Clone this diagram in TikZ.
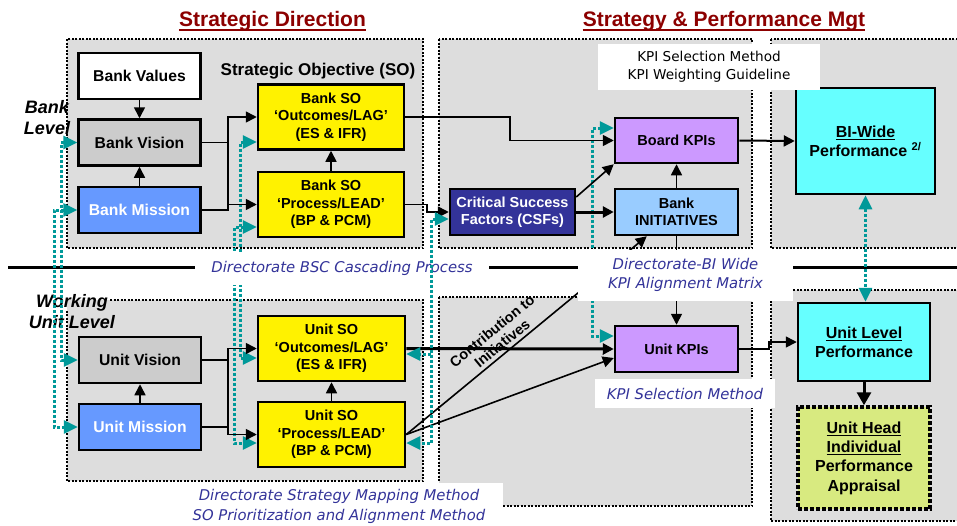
\documentclass[tikz,border=0pt]{standalone}
\usepackage{fontspec}
\setmainfont{Liberation Sans}
\newfontfamily\lblfont{DejaVu Sans}
\usetikzlibrary{arrows.meta}
\newcommand{\ulbox}[1]{\setbox0\hbox{#1}\rlap{\rule[-2.8pt]{\wd0}{1.3pt}}\box0}
\definecolor{panelgray}{RGB}{221,221,221}
\definecolor{visiongray}{RGB}{204,204,204}
\definecolor{missionblue}{RGB}{102,153,255}
\definecolor{csfblue}{RGB}{51,51,153}
\definecolor{initblue}{RGB}{153,204,255}
\definecolor{kpililac}{RGB}{204,153,255}
\definecolor{perfcyan}{RGB}{102,255,255}
\definecolor{apprgreen}{RGB}{216,234,128}
\definecolor{titlered}{RGB}{140,0,0}
\definecolor{methodblue}{RGB}{51,51,153}
\definecolor{cascadeteal}{RGB}{0,153,153}
\tikzset{
  blackhead/.tip={Triangle[length=11pt,width=11pt]},
  tealhead/.tip={Triangle[length=14pt,width=13pt]}
}
\begin{document}
\begin{tikzpicture}[x=1pt, y=-1pt,
    panel/.style={fill=panelgray, draw, line width=2pt, dash pattern=on 2pt off 1.5pt},
    box/.style={draw, line width=2.5pt, align=center, inner sep=0pt, minimum width=123pt,
      minimum height=46pt, font=\bfseries\fontsize{14.5}{17.4}\selectfont},
    vmbox/.style={box, minimum width=122pt, font=\bfseries\fontsize{15.7}{18}\selectfont},
    sobox/.style={box, fill=yellow, minimum width=146pt, minimum height=65pt},
    perfbox/.style={box, fill=perfcyan, font=\bfseries\fontsize{16}{19.4}\selectfont},
    conn/.style={line width=1.6pt, -blackhead},
    cascade/.style={draw=cascadeteal, line width=3pt, dash pattern=on 3pt off 2pt},
    methodlbl/.style={fill=white, text=methodblue, align=center, inner sep=0pt,
      font=\lblfont\itshape\fontsize{14.8}{19.5}\selectfont},
    level/.style={align=center, inner sep=0pt, font=\bfseries\itshape\fontsize{18}{21}\selectfont},
    heading/.style={text=titlered, inner sep=0pt, font=\bfseries\fontsize{21}{25}\selectfont}]
  \useasboundingbox (0,0) rectangle (957,525);
  \clip (0,0) rectangle (957,525);

  % panels
  \draw[panel] (67,39) rectangle (423,248);
  \draw[panel] (439,39) rectangle (752,248);
  \draw[panel] (771,39) rectangle (965,248);
  \fill[panelgray] (67,300) rectangle (423,481);
  \draw[line width=2pt, dash pattern=on 2pt off 1.5pt] (110,300) -| (423,481) -| (67,310);
  \draw[panel] (439,297) rectangle (752,506);
  \draw[panel] (771,290) rectangle (965,521);
  \draw[line width=3pt] (8,267) -- (965,267);

  % headings
  \node[heading, anchor=base] (sdhead) at (272.5,26) {Strategic Direction};
  \node[heading, anchor=base] (sphead) at (724,26) {Strategy \& Performance Mgt};
  \foreach \h in {sdhead,sphead}
    \draw[titlered, line width=2pt] ([yshift=-3.5pt]\h.base west) -- ([yshift=-3.5pt]\h.base east);

  \node[level] (banklvl) at (47,117.5) {Bank\\Level};
  \node[level] (unitlvl) at (72,312) {Working\\Unit Level};
  \node[inner sep=0pt, font=\bfseries\fontsize{17}{20}\selectfont] (solbl) at (318,71) {Strategic Objective (SO)};

  % bank level
  \node[vmbox, fill=white] (bvalues) at (139.5,76) {Bank Values};
  \node[vmbox, fill=visiongray] (bvision) at (139.5,142.5) {Bank Vision};
  \node[vmbox, fill=missionblue, text=white] (bmission) at (139.5,210) {Bank Mission};
  \node[sobox] (bsoout) at (331,117) {Bank SO\\‘Outcomes/LAG’\\(ES \& IFR)};
  \node[sobox] (bsoproc) at (331,204.5) {Bank SO\\‘Process/LEAD’\\(BP \& PCM)};
  \node[box, fill=csfblue, text=white, minimum width=125pt] (csf) at (512.5,212) {Critical Success\\Factors (CSFs)};
  \node[box, fill=kpililac, minimum height=45pt] (boardkpi) at (676.5,140.5) {Board KPIs};
  \node[box, fill=initblue] (binit) at (676.5,212) {Bank\\INITIATIVES};
  \node[perfbox, minimum width=139pt, minimum height=106pt] (biwide) at (865.5,141)
    {\ulbox{BI-Wide}\\Performance \textsuperscript{2/}};

  % unit level
  \node[vmbox, fill=visiongray] (uvision) at (140,360) {Unit Vision};
  \node[vmbox, fill=missionblue, text=white] (umission) at (140,427) {Unit Mission};
  \node[sobox, minimum width=147pt] (usoout) at (331.5,348.5) {Unit SO\\‘Outcomes/LAG’\\(ES \& IFR)};
  \node[sobox, minimum width=147pt] (usoproc) at (331.5,434.5) {Unit SO\\‘Process/LEAD’\\(BP \& PCM)};
  \node[box, fill=kpililac] (unitkpi) at (676.5,349) {Unit KPIs};
  \node[perfbox, minimum width=132pt, minimum height=78pt] (uperf) at (864,342)
    {\ulbox{Unit Level}\\Performance};
  \node[perfbox, fill=apprgreen, line width=3.5pt, dash pattern=on 4pt off 2pt,
    minimum width=132pt, minimum height=102pt] (uhead) at (864,458)
    {\ulbox{Unit Head}\\\ulbox{Individual}\\Performance\\Appraisal};

  \coordinate (ta) at (61,0);
  \coordinate (tb) at (54,0);
  \coordinate (tc) at (240,0);
  \coordinate (td) at (234,0);
  \coordinate (te) at (431,0);
  \coordinate (tf) at (592,0);
  \coordinate (c1a) at ([yshift=-25pt]bsoout.west);
  \coordinate (c1b) at ([yshift=-9.5pt]usoout.west);
  \coordinate (c2a) at ([yshift=-22.5pt]bsoproc.west);
  \coordinate (c2b) at ([yshift=-8.5pt]usoproc.west);
  \coordinate (e1) at ([yshift=12.5pt]boardkpi.west);
  \coordinate (e2) at ([yshift=13pt]unitkpi.west);

  % links running under the method labels
  \draw[cascade, tealhead-tealhead] (c1a) -- (tc |- c1a) -- (tc |- c1b) -- (c1b);
  \draw[cascade, tealhead-tealhead] (c2a) -- (td |- c2a) -- (td |- c2b) -- (c2b);
  \draw[cascade, tealhead-tealhead] (e1) -- (tf |- e1) -- (tf |- e2) -- (e2);
  \draw[conn] (binit.south) -- (unitkpi.north);
  \draw[conn] (usoproc.east) -- ([xshift=33pt]binit.south west);
  \node[rotate=39.5, align=center, inner sep=0pt, font=\bfseries\fontsize{14.5}{16}\selectfont]
    (contrib) at (497,337) {Contribution to\\Initiatives};

  % method labels
  \node[methodlbl, minimum width=294pt, minimum height=33pt] (cascadelbl) at (342,268.5)
    {Directorate BSC Cascading Process};
  \node[methodlbl, minimum width=215pt, minimum height=51pt] (matrixlbl) at (685.5,275)
    {Directorate-BI Wide\\KPI Alignment Matrix};
  \node[methodlbl, minimum width=180pt, minimum height=29pt] (kpisel) at (685,393.5)
    {KPI Selection Method};
  \node[methodlbl, minimum width=328pt, minimum height=47pt] (mappinglbl) at (339,506.5)
    {Directorate Strategy Mapping Method\\SO Prioritization and Alignment Method};
  \node[fill=white, inner sep=0pt, minimum width=222pt, minimum height=46pt, align=center,
    font=\lblfont\fontsize{13.6}{18}\selectfont] (kpiguide) at (709,67)
    {KPI Selection Method\\KPI Weighting Guideline};

  % bank level links
  \draw[conn] (bvalues.south) -- (bvision.north);
  \draw[conn] (bmission.north) -- (bvision.south);
  \coordinate (bj) at (228,0);
  \draw[line width=1.6pt] (bvision.east) -- (bj |- bvision.east);
  \draw[conn] (bmission.east) -| (bj |- bsoout.west) -- (bsoout.west);
  \draw[conn] (bj |- bsoproc.west) -- (bsoproc.west);
  \draw[conn] (bsoproc.north) -- (bsoout.south);
  \coordinate (bk) at (510,0);
  \coordinate (ck) at (427,0);
  \draw[conn] (bsoout.east) -| (bk |- boardkpi.west) -- (boardkpi.west);
  \draw[conn] (bsoproc.east) -| (ck |- csf.west) -- (csf.west);
  \draw[line width=3pt, -blackhead] (csf.east) -- (binit.west);
  \draw[conn] ([yshift=15pt]csf.east) -- (boardkpi.south west);
  \draw[conn] (binit.north) -- (boardkpi.south);
  \draw[line width=2pt, -blackhead] (boardkpi.east) -- (biwide.west);

  % unit level links
  \draw[conn] (umission.north) -- (uvision.south);
  \coordinate (uj) at (228,0);
  \draw[line width=1.6pt] (uvision.east) -- (uj |- uvision.east);
  \draw[conn] (umission.east) -| (uj |- usoout.west) -- (usoout.west);
  \draw[conn] (uj |- umission.east) |- (usoproc.west);
  \draw[conn] (usoproc.north) -- (usoout.south);
  \draw[line width=3pt, -blackhead] (usoout.east) -- (unitkpi.west);
  \draw[conn] (usoproc.east) -- ([yshift=-9pt]unitkpi.west);
  \draw[conn] (unitkpi.east) -- ++(30,0) |- (uperf.west);
  \draw[line width=3pt, -{Triangle[length=13pt,width=14pt]}] (uperf.south) -- (uhead.north);

  % cascading links
  \coordinate (d1) at ([yshift=-7pt]csf.west);
  \coordinate (d2) at ([yshift=-8.5pt]usoproc.east);
  \coordinate (d3) at ([yshift=-5.5pt]usoout.east);
  \draw[cascade, tealhead-tealhead] (bvision.west) -- (ta |- bvision.west) -- (ta |- uvision.west) -- (uvision.west);
  \draw[cascade, tealhead-tealhead] (bmission.west) -- (tb |- bmission.west) -- (tb |- umission.west) -- (umission.west);
  \draw[cascade, tealhead-tealhead] (d1) -- (te |- d1) -- (te |- d2) -- (d2);
  \draw[cascade, -tealhead] (te |- d3) -- (d3);
  \draw[cascade, tealhead-tealhead] (biwide.south) -- (biwide.south |- uperf.north);
\end{tikzpicture}
\end{document}
